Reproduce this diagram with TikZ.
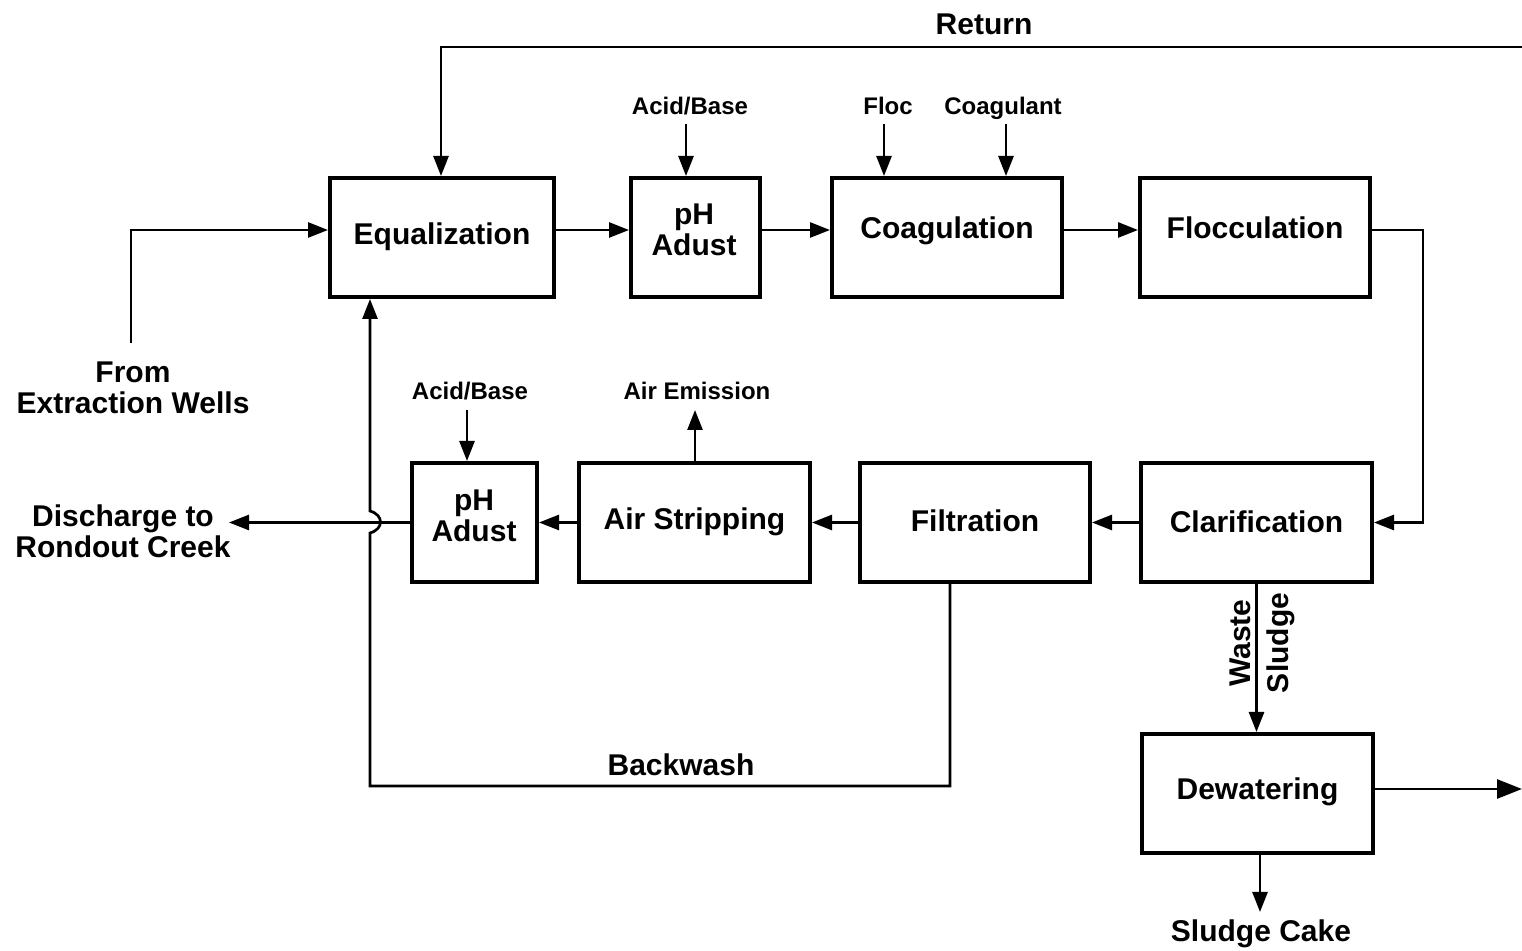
\documentclass[tikz,border=0pt]{standalone}
\usepackage{fontspec}
\setmainfont{Liberation Sans}
\usetikzlibrary{arrows.meta}
\begin{document}
\begin{tikzpicture}[x=0.5pt,y=-0.5pt,
  blk/.style={draw, line width=2pt, rectangle, inner sep=0pt,
    minimum height=59.5pt},
  % box captions, centred on the cap height
  capt/.style={inner sep=0pt, text height=10.7pt, text depth=0pt,
    font=\fontsize{15}{15.5}\selectfont\bfseries},
  lbl/.style={inner sep=0pt, align=center,
    font=\fontsize{15}{15.5}\selectfont\bfseries},
  small/.style={inner sep=0pt, text height=8.6pt, text depth=0pt,
    font=\fontsize{12}{14}\selectfont\bfseries},
  wire/.style={line width=1.35pt},
  flow/.style={wire, -{Triangle[length=10pt,width=7.5pt]}},
  bigflow/.style={wire, -{Triangle[length=12.5pt,width=9.5pt]}}]
\useasboundingbox (0,0) rectangle (1522,951);

% process units, upper train
\node[blk, minimum width=112pt]   (eq)   at (442,237.5)   {};
\node[blk, minimum width=64.5pt]  (ph1)  at (695.5,237.5) {};
\node[blk, minimum width=115pt]   (coag) at (947,237.5)   {};
\node[blk, minimum width=115pt]   (floc) at (1255,237.5)  {};

% process units, lower train
\node[blk, minimum width=62.5pt]  (ph2)  at (474.5,522.5)  {};
\node[blk, minimum width=115.5pt] (air)  at (694.5,522.5)  {};
\node[blk, minimum width=115pt]   (filt) at (975,522.5)    {};
\node[blk, minimum width=115.5pt] (clar) at (1256.5,522.5) {};
\node[blk, minimum width=115.5pt] (dew)  at (1257.5,793.5) {};

% captions of the units
\node[capt] (eq-t)   at (442,234)   {Equalization};
\node[lbl]  (ph1-t)  at (694,229.5) {pH\\Adust};
\node[capt] (coag-t) at (947,228)   {Coagulation};
\node[capt] (floc-t) at (1255,228)  {Flocculation};
\node[lbl]  (ph2-t)  at (474,515.5) {pH\\Adust};
\node[capt] (air-t)  at (694.5,519) {Air Stripping};
\node[capt] (filt-t) at (975,521)   {Filtration};
\node[capt] (clar-t) at (1256.5,522) {Clarification};
\node[capt] (dew-t)  at (1257.5,789) {Dewatering};

% stream labels
\node[capt] (retl)  at (984,24)   {Return};
\node[lbl]  (wells) at (133,388)  {From\\Extraction Wells};
\node[lbl]  (disc)  at (123,531)  {Discharge to\\Rondout Creek};
\node[capt] (bwl)   at (681,765)  {Backwash};
\node[capt] (cake)  at (1261,931) {Sludge Cake};
\node[lbl, rotate=90] (waste)  at (1240,643) {Waste};
\node[lbl, rotate=90] (sludge) at (1281,643) {Sludge};
\node[small] (ab1)  at (690,106)  {Acid/Base};
\node[small] (flc)  at (888,106)  {Floc};
\node[small] (cgl)  at (1003,106) {Coagulant};
\node[small] (ab2)  at (470,391)  {Acid/Base};
\node[small] (aem)  at (697,391)  {Air Emission};

% route points
\coordinate (rowA) at (0,230);
\coordinate (ret)  at (1522,47);
\coordinate (retc) at (441,47);
\coordinate (win)  at (131,343);
\coordinate (fc)   at (1423,230);
\coordinate (dtip) at (229,521);
\coordinate (bw1)  at (950,786);
\coordinate (bw2)  at (370,786);
\coordinate (dr)   at (1522,789);
\coordinate (sc)   at (1260,912);
\coordinate (ae)   at (695,410);
\coordinate (ad2)  at (467,410);
\coordinate (ad1)  at (686,124);
\coordinate (fl)   at (884,124);
\coordinate (cg)   at (1006,124);

% main flow
\draw[flow] (win) |- (eq.west |- rowA);
\draw[flow] (eq.east |- rowA) -- (ph1.west |- rowA);
\draw[flow] (ph1.east |- rowA) -- (coag.west |- rowA);
\draw[flow] (coag.east |- rowA) -- (floc.west |- rowA);
\draw[flow] (floc.east |- rowA) -- (fc) |- (clar.east);
\draw[flow] (clar.west) -- (filt.east);
\draw[flow] (filt.west) -- (air.east);
\draw[flow] (air.west) -- (ph2.east);
\draw[flow] (ph2.west) -- (ph2.west -| dtip);

% return line
\draw[flow] (ret) -- (retc) -- (eq.north -| retc);

% backwash, hopping over the discharge line
\draw[flow] (filt.south -| bw1) -- (bw1) -- (bw2) -- (370,533)
  .. controls (384,529) and (384,515) .. (370,511) -- (eq.south -| bw2);

% chemical feeds and emission
\draw[flow] (ad1) -- (ph1.north -| ad1);
\draw[flow] (fl) -- (coag.north -| fl);
\draw[flow] (cg) -- (coag.north -| cg);
\draw[flow] (ad2) -- (ph2.north -| ad2);
\draw[flow] (air.north -| ae) -- (ae);

% sludge handling
\draw[flow] (clar.south) -- (clar.south |- dew.north);
\draw[bigflow] (dew.east |- dr) -- (dr);
\draw[flow] (dew.south -| sc) -- (sc);
\end{tikzpicture}
\end{document}
